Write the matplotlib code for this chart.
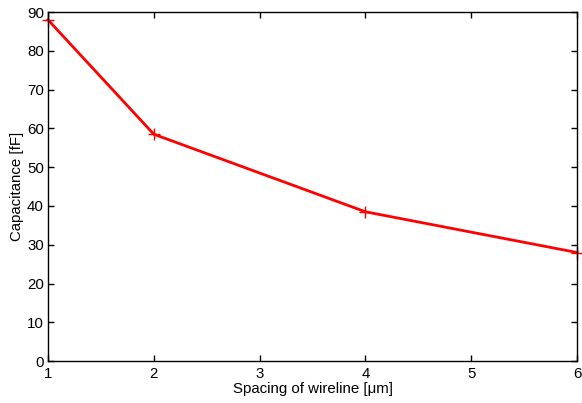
import matplotlib
matplotlib.use("Agg")
import matplotlib.pyplot as plt

spacing = [1, 2, 4, 6]
capacitance = [88, 58.5, 38.5, 28]
xticks = [1, 2, 3, 4, 5, 6]
yticks = [0, 10, 20, 30, 40, 50, 60, 70, 80, 90]

plt.rcParams['font.family'] = ['Liberation Sans', 'DejaVu Sans']
plt.rcParams['font.size'] = 10.8

fig = plt.figure(figsize=(5.82, 4.03), dpi=100)
ax = fig.add_axes([0.0825, 0.104, 0.909, 0.866])
ax.plot(spacing, capacitance, color='#ff0000', linewidth=2, marker='+',
        markersize=9, markeredgewidth=1, clip_on=False)
ax.set_xlim(1, 6)
ax.set_ylim(0, 90)
ax.set_xticks(xticks)
ax.set_yticks(yticks)
ax.tick_params(direction='in', length=4, width=1, top=True, right=True, pad=3)
ax.tick_params(axis='x', pad=4)
for s in ax.spines.values():
    s.set_linewidth(1)
ax.set_xlabel('Spacing of wireline [\u03bcm]', labelpad=1)
ax.set_ylabel('Capacitance [fF]', labelpad=2)
fig.savefig('out.png', dpi=100)
